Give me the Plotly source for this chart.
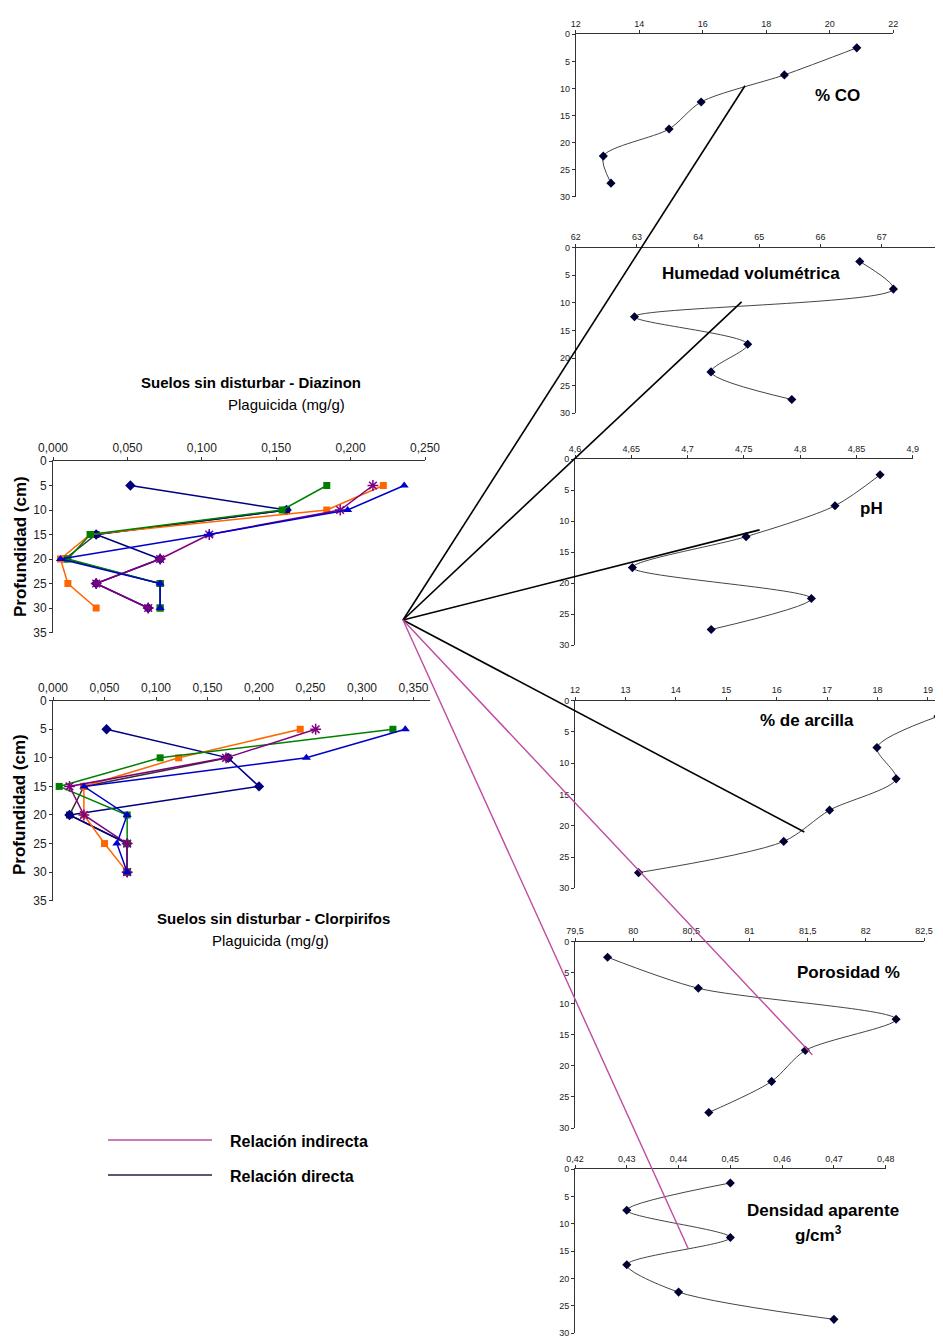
import plotly.graph_objects as go

# page pixel frame of the reference; the html body adds an 8px offset
PAGE_W, PAGE_H = 943, 1338
OFF = 8
W, H = PAGE_W - OFF, PAGE_H - OFF

# ---------------- data: pesticide profiles (left) ----------------
depth_pest = [5, 10, 15, 20, 25, 30]
pest_series = ["S1", "S2", "S3", "S4", "S5", "S6"]

diaz_s1 = [0.052, 0.157, 0.029, 0.072, 0.029, 0.064]
diaz_s2 = [0.222, 0.184, 0.025, 0.005, 0.010, 0.029]
diaz_s3 = [0.184, 0.154, 0.025, 0.010, 0.072, 0.072]
diaz_s4 = [0.236, 0.198, 0.105, 0.005, 0.072, 0.072]
diaz_s5 = [0.215, 0.193, 0.105, 0.072, 0.029, 0.064]
diaz_s6 = [None, 0.157, 0.029, 0.008, 0.072, 0.072]

clor_s1 = [0.052, 0.170, 0.200, 0.016, 0.072, 0.072]
clor_s2 = [0.240, 0.122, 0.030, 0.030, 0.050, 0.072]
clor_s3 = [0.330, 0.104, 0.006, 0.072, 0.072, 0.072]
clor_s4 = [0.342, 0.246, 0.030, 0.072, 0.062, 0.072]
clor_s5 = [0.255, 0.168, 0.016, 0.030, 0.072, 0.072]
clor_s6 = [None, 0.170, 0.030, 0.016, 0.072, 0.072]

diaz_ticks = [0, 0.05, 0.10, 0.15, 0.20, 0.25]
diaz_ticktext = ["0,000", "0,050", "0,100", "0,150", "0,200", "0,250"]
clor_ticks = [0, 0.05, 0.10, 0.15, 0.20, 0.25, 0.30, 0.35]
clor_ticktext = ["0,000", "0,050", "0,100", "0,150", "0,200", "0,250", "0,300", "0,350"]
pest_depth_ticks = [0, 5, 10, 15, 20, 25, 30, 35]

# ---------------- data: soil properties (right) ----------------
depth_soil = [2.5, 7.5, 12.5, 17.5, 22.5, 27.5]
co = [20.85, 18.57, 15.95, 14.94, 12.87, 13.11]
hum = [66.64, 67.19, 62.96, 64.81, 64.21, 65.53]
ph = [4.871, 4.831, 4.752, 4.651, 4.810, 4.721]
arc = [19.2, 17.99, 18.37, 17.05, 16.14, 13.26]
por = [79.78, 80.56, 82.26, 81.48, 81.19, 80.65]
den = [0.45, 0.43, 0.45, 0.43, 0.44, 0.47]

co_ticks = [12, 14, 16, 18, 20, 22]
hum_ticks = [62, 63, 64, 65, 66, 67, 68]
ph_ticks = [4.6, 4.65, 4.7, 4.75, 4.8, 4.85, 4.9]
ph_ticktext = ["4,6", "4,65", "4,7", "4,75", "4,8", "4,85", "4,9"]
arc_ticks = [12, 13, 14, 15, 16, 17, 18, 19]
por_ticks = [79.5, 80, 80.5, 81, 81.5, 82, 82.5]
por_ticktext = ["79,5", "80", "80,5", "81", "81,5", "82", "82,5"]
den_ticks = [0.42, 0.43, 0.44, 0.45, 0.46, 0.47, 0.48]
den_ticktext = ["0,42", "0,43", "0,44", "0,45", "0,46", "0,47", "0,48"]
soil_depth_ticks = [0, 5, 10, 15, 20, 25, 30]

# connector end points (data coords of each target panel)
conn_direct = [("co", 17.33, 9.5), ("hum", 64.71, 9.8), ("ph", 4.764, 11.4), ("arc", 16.55, 21.0)]
conn_indirect = [("por", 81.54, 18.2), ("den", 0.4419, 14.6)]

# ---------------- layout geometry (page pixels) ----------------
# name: (x_left_px, x_right_px, y_top_px, y_bottom_px, xrange, ymax)
panels = {
    "diaz": (53, 425, 461, 632.5, [0, 0.25], 35),
    "clor": (53, 430, 700.7, 900.7, [0, 0.366], 35),
    "co":   (575.7, 893.3, 34.3, 196.7, [12, 22], 30),
    "hum":  (575.7, 943, 247.7, 413.3, [62, 68], 30),
    "ph":   (575, 912.7, 459.3, 645, [4.6, 4.9], 30),
    "arc":  (575, 943, 700.7, 888.3, [12, 19.3], 30),
    "por":  (575, 924, 941.7, 1128, [79.5, 82.5], 30),
    "den":  (575, 885.7, 1169.3, 1333, [0.42, 0.48], 30),
}
order = ["diaz", "clor", "co", "hum", "ph", "arc", "por", "den"]

def px2paper(px, py):
    return (px - OFF) / W, 1 - (py - OFF) / H

def data2paper(name, x, y):
    xl, xr, yt, yb, xr_, ymax = panels[name]
    px = xl + (x - xr_[0]) / (xr_[1] - xr_[0]) * (xr - xl)
    py = yt + (y / ymax) * (yb - yt)
    return px2paper(px, py)

fig = go.Figure()
layout = dict(width=W, height=H, margin=dict(l=0, r=0, t=0, b=0, pad=0, autoexpand=False),
              plot_bgcolor="white", paper_bgcolor="white", showlegend=False)

axref = {}
for i, name in enumerate(order, start=1):
    xl, xr, yt, yb, xrange, ymax = panels[name]
    xk = "xaxis" if i == 1 else f"xaxis{i}"
    yk = "yaxis" if i == 1 else f"yaxis{i}"
    xa = "x" if i == 1 else f"x{i}"
    ya = "y" if i == 1 else f"y{i}"
    axref[name] = (xa, ya)
    left = name in ("diaz", "clor")
    tickfont = (dict(family="Liberation Sans Narrow, Arial Narrow, sans-serif", size=12, color="#222")
                if left else dict(family="Liberation Sans, Arial, sans-serif", size=9, color="#222"))
    x0p, y1p = px2paper(xl, yb)
    x1p, y0p = px2paper(xr, yt)
    layout[xk] = dict(domain=[max(x0p, 0), min(x1p, 1.0)], range=xrange, side="top", anchor=ya,
                      showline=True, linecolor="#333", linewidth=1, ticks="outside", ticklen=3,
                      tickcolor="#333", showgrid=False, zeroline=False, tickfont=tickfont,
                      automargin=False, ticklabeloverflow="allow")
    layout[yk] = dict(domain=[max(y1p, 0), min(y0p, 1.0)], range=[ymax, 0], anchor=xa,
                      showline=True, linecolor="#333", linewidth=1, ticks="outside", ticklen=3,
                      tickcolor="#333", showgrid=False, zeroline=False, tickfont=tickfont,
                      tickvals=pest_depth_ticks if left else soil_depth_ticks, automargin=False,
                      ticklabeloverflow="allow")

layout["xaxis"].update(tickvals=diaz_ticks, ticktext=diaz_ticktext)
layout["xaxis2"].update(tickvals=clor_ticks, ticktext=clor_ticktext)
layout["xaxis3"].update(tickvals=co_ticks)
layout["xaxis4"].update(tickvals=hum_ticks)
layout["xaxis5"].update(tickvals=ph_ticks, ticktext=ph_ticktext)
layout["xaxis6"].update(tickvals=arc_ticks)
layout["xaxis7"].update(tickvals=por_ticks, ticktext=por_ticktext)
layout["xaxis8"].update(tickvals=den_ticks, ticktext=den_ticktext)

# pesticide series styles
styles = [
    dict(color="#000080", symbol="diamond", size=8),
    dict(color="#FF6600", symbol="square", size=7),
    dict(color="#008000", symbol="square", size=7),
    dict(color="#0000CC", symbol="triangle-up", size=8),
    dict(color="#800080", symbol="asterisk-open", size=9),
    dict(color="#333333", symbol="square", size=7),
]

def add_pest(name, series):
    xa, ya = axref[name]
    for idx in [5, 0, 1, 2, 4, 3]:
        vals = series[idx]
        st = styles[idx]
        marker = dict(symbol=st["symbol"], size=st["size"], color=st["color"])
        if st["symbol"] == "asterisk-open":
            marker["line"] = dict(color=st["color"], width=1.5)
        fig.add_trace(go.Scatter(x=vals, y=depth_pest, mode="lines+markers", name=pest_series[idx],
                                 line=dict(color=st["color"], width=1.5), marker=marker,
                                 xaxis=xa, yaxis=ya, cliponaxis=False, connectgaps=False))

add_pest("diaz", [diaz_s1, diaz_s2, diaz_s3, diaz_s4, diaz_s5, diaz_s6])
add_pest("clor", [clor_s1, clor_s2, clor_s3, clor_s4, clor_s5, clor_s6])

for name, vals in [("co", co), ("hum", hum), ("ph", ph), ("arc", arc), ("por", por), ("den", den)]:
    xa, ya = axref[name]
    fig.add_trace(go.Scatter(x=vals, y=depth_soil, mode="lines+markers",
                             line=dict(color="#444", width=1, shape="spline", smoothing=0.8),
                             marker=dict(symbol="diamond", size=7, color="#000033"),
                             xaxis=xa, yaxis=ya, cliponaxis=False))

# connectors
ox, oy = px2paper(403, 620)
shapes = []
for name, x, y in conn_direct:
    ex, ey = data2paper(name, x, y)
    shapes.append(dict(type="line", xref="paper", yref="paper", x0=ox, y0=oy, x1=ex, y1=ey,
                       line=dict(color="black", width=1.6)))
for name, x, y in conn_indirect:
    ex, ey = data2paper(name, x, y)
    shapes.append(dict(type="line", xref="paper", yref="paper", x0=ox, y0=oy, x1=ex, y1=ey,
                       line=dict(color="#C04AA0", width=1.4)))

# legend lines
lx0, ly1 = px2paper(108, 1140)
lx1, _ = px2paper(212, 1140)
_, ly2 = px2paper(108, 1175)
shapes.append(dict(type="line", xref="paper", yref="paper", x0=lx0, x1=lx1, y0=ly1, y1=ly1,
                   line=dict(color="#C04AA0", width=1.4)))
shapes.append(dict(type="line", xref="paper", yref="paper", x0=lx0, x1=lx1, y0=ly2, y1=ly2,
                   line=dict(color="#22224A", width=1.4)))
layout["shapes"] = shapes

def ann(text, px, py, size=16, bold=True, angle=0, xanchor="center", color="black"):
    x, y = px2paper(px, py)
    t = f"<b>{text}</b>" if bold else text
    return dict(text=t, x=x, y=y, xref="paper", yref="paper", showarrow=False,
                xanchor=xanchor, yanchor="middle", textangle=angle,
                font=dict(family="Liberation Sans, Arial, sans-serif", size=size, color=color))

annotations = [
    ann("Suelos sin disturbar - Diazinon", 251, 383, size=15),
    ann("Plaguicida (mg/g)", 286, 405, size=15, bold=False),
    ann("Profundidad (cm)", 21, 547, size=17, angle=-90),
    ann("Profundidad (cm)", 19, 805, size=17, angle=-90),
    ann("Suelos sin disturbar - Clorpirifos", 273, 918, size=15),
    ann("Plaguicida (mg/g)", 270, 940, size=15, bold=False),
    ann("% CO", 837, 96, size=17),
    ann("Humedad volumétrica", 751, 274, size=17),
    ann("pH", 871, 508, size=17),
    ann("% de arcilla", 807, 720, size=17),
    ann("Porosidad %", 848, 972, size=17),
    ann("Densidad aparente", 823, 1210, size=17),
    ann("g/cm<sup>3</sup>", 818, 1234, size=17),
    ann("Relación indirecta", 228, 1141, size=16, xanchor="left"),
    ann("Relación directa", 228, 1176, size=16, xanchor="left"),
]
layout["annotations"] = annotations

fig.update_layout(**layout)
fig.write_html("out.html")
